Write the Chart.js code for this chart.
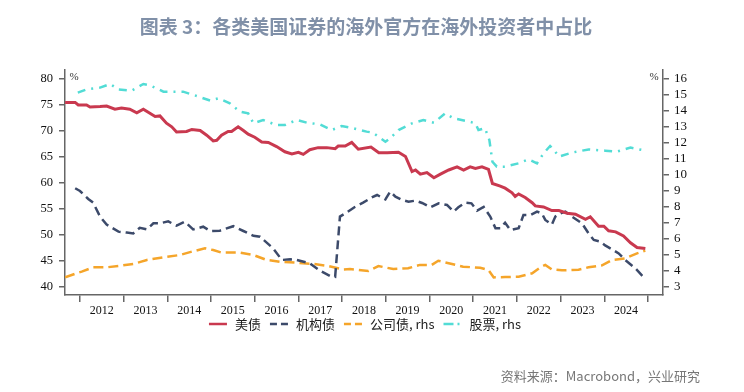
<!DOCTYPE html>
<html><head><meta charset="utf-8">
<script src="https://cdn.jsdelivr.net/npm/chart.js@4.4.1/dist/chart.umd.min.js"></script>
<style>html,body{margin:0;padding:0;background:#fff;}canvas{display:block}</style>
</head><body>
<canvas id="c" width="744" height="392"></canvas>
<script>
// ---- DATA (decimal years) ----
const treasuryYears = [2011.66,2011.89,2011.96,2012.15,2012.23,2012.46,2012.61,2012.80,2012.95,2013.14,2013.30,2013.45,2013.72,2013.83,2013.98,2014.10,2014.21,2014.44,2014.56,2014.75,2014.90,2015.05,2015.13,2015.24,2015.39,2015.47,2015.62,2015.74,2015.85,2016.00,2016.16,2016.31,2016.50,2016.69,2016.85,2017.00,2017.11,2017.26,2017.45,2017.65,2017.84,2017.91,2018.07,2018.22,2018.37,2018.66,2018.84,2019.03,2019.29,2019.45,2019.60,2019.68,2019.79,2019.94,2020.10,2020.25,2020.44,2020.63,2020.78,2020.93,2021.05,2021.20,2021.35,2021.44,2021.62,2021.73,2021.89,2021.96,2022.04,2022.19,2022.35,2022.42,2022.61,2022.80,2022.96,2023.15,2023.34,2023.57,2023.68,2023.87,2023.99,2024.10,2024.26,2024.44,2024.60,2024.75,2024.94];
const treasuryValues = [75.5,75.5,75.0,75.0,74.6,74.7,74.8,74.2,74.4,74.2,73.5,74.2,72.8,72.9,71.5,70.8,69.8,69.9,70.3,70.1,69.2,68.1,68.2,69.2,69.9,69.9,70.8,70.1,69.4,68.8,67.9,67.8,67.0,66.0,65.6,65.9,65.5,66.4,66.8,66.8,66.6,67.1,67.1,67.8,66.5,66.9,65.8,65.8,65.9,65.1,62.2,62.5,61.7,62.0,61.0,61.7,62.5,63.1,62.5,63.1,62.8,63.1,62.6,59.9,59.4,59.0,58.1,57.4,57.9,57.2,56.2,55.6,55.4,54.7,54.7,54.2,54.0,53.0,53.5,51.7,51.7,50.8,50.6,49.8,48.5,47.6,47.4];

const agencyYears = [2011.89,2012.00,2012.19,2012.30,2012.46,2012.61,2012.88,2013.07,2013.22,2013.37,2013.53,2013.68,2013.83,2014.02,2014.21,2014.40,2014.59,2014.82,2014.98,2015.20,2015.51,2015.74,2015.97,2016.12,2016.42,2016.62,2016.81,2016.96,2017.26,2017.49,2017.72,2017.84,2017.95,2018.07,2018.29,2018.48,2018.68,2018.80,2018.99,2019.10,2019.22,2019.37,2019.52,2019.68,2019.83,2020.02,2020.21,2020.40,2020.55,2020.66,2020.82,2020.96,2021.09,2021.24,2021.39,2021.51,2021.62,2021.73,2021.85,2022.04,2022.15,2022.31,2022.46,2022.57,2022.65,2022.80,2022.88,2022.96,2023.11,2023.26,2023.49,2023.64,2023.76,2023.91,2024.02,2024.18,2024.33,2024.48,2024.71,2024.94];
const agencyValues = [9.17,9.0,8.5,8.27,7.4,6.9,6.46,6.4,6.35,6.7,6.6,6.98,6.98,7.1,6.83,7.08,6.6,6.77,6.5,6.52,6.8,6.5,6.2,6.14,5.42,4.69,4.73,4.69,4.48,4.02,3.69,3.64,7.4,7.6,8.0,8.27,8.6,8.75,8.48,8.96,8.65,8.44,8.33,8.4,8.25,7.98,8.23,8.13,7.71,7.98,8.27,8.23,7.77,8.0,7.4,6.67,6.67,7.02,6.56,6.67,7.5,7.5,7.71,7.6,7.19,6.9,7.4,7.56,7.71,7.4,6.98,6.35,5.94,5.83,5.6,5.35,5.1,4.69,4.17,3.5];

const corporateYears = [2011.66,2011.92,2012.04,2012.30,2012.61,2012.92,2013.22,2013.53,2013.91,2014.29,2014.56,2014.86,2015.05,2015.24,2015.66,2015.97,2016.27,2016.58,2016.96,2017.34,2017.65,2018.03,2018.18,2018.60,2018.83,2019.17,2019.51,2019.78,2020.05,2020.20,2020.39,2020.77,2021.16,2021.35,2021.47,2021.73,2022.04,2022.35,2022.54,2022.65,2022.80,2023.03,2023.41,2023.64,2023.95,2024.18,2024.48,2024.75,2024.94];
const corporateValues = [3.6,3.86,3.96,4.23,4.23,4.33,4.44,4.69,4.86,5.0,5.21,5.42,5.31,5.15,5.15,5.0,4.69,4.58,4.52,4.44,4.33,4.1,4.12,4.0,4.31,4.12,4.17,4.38,4.38,4.64,4.52,4.27,4.2,4.06,3.6,3.62,3.64,3.86,4.23,4.38,4.1,4.04,4.08,4.23,4.35,4.69,4.79,5.1,5.27];

const equityYears = [2011.95,2012.15,2012.46,2012.69,2012.88,2013.18,2013.45,2013.60,2013.91,2014.36,2014.67,2014.98,2015.17,2015.43,2015.66,2015.85,2015.97,2016.19,2016.50,2016.69,2016.96,2017.19,2017.49,2017.76,2017.99,2018.26,2018.56,2018.70,2018.99,2019.10,2019.29,2019.60,2019.86,2020.10,2020.36,2020.55,2020.86,2021.05,2021.12,2021.27,2021.37,2021.44,2021.54,2021.73,2022.04,2022.27,2022.46,2022.61,2022.76,2022.85,2022.96,2023.26,2023.64,2024.02,2024.29,2024.60,2024.94];
const equityValues = [15.15,15.35,15.46,15.69,15.35,15.27,15.69,15.6,15.21,15.21,14.94,14.65,14.79,14.48,13.96,13.85,13.23,13.44,13.12,13.12,13.44,13.27,13.17,12.81,13.06,12.92,12.71,12.65,12.08,12.3,12.81,13.23,13.44,13.27,13.85,13.54,13.37,13.23,12.81,12.92,12.19,10.83,10.52,10.52,10.73,10.98,10.73,11.35,11.81,11.56,11.15,11.4,11.6,11.52,11.46,11.71,11.52];

const seriesNames = ['美债','机构债','公司债, rhs','股票, rhs'];
const yearTicks = [2012,2013,2014,2015,2016,2017,2018,2019,2020,2021,2022,2023,2024,2025];
const leftTicks = [40,45,50,55,60,65,70,75,80];
const rightTicks = [3,4,5,6,7,8,9,10,11,12,13,14,15,16];

const titleText = '图表 3：各类美国证券的海外官方在海外投资者中占比';
const sourceText = '资料来源：Macrobond，兴业研究';

// ---- build ----
const pts = (xs, ys) => xs.map((x, i) => ({x, y: ys[i]}));
const colors = ['#c9394f', '#3c4a6a', '#f5a52a', '#52dcd5'];
const dashes = [[], [9,5], [10,5], [8,6,2,6]];
const legendDashes = [[], [7,4], [7,4], [10,4,2,4]];

const CJK = '"Noto Sans CJK SC", "Noto Sans", sans-serif';
const SERIF = '"Liberation Serif", "DejaVu Serif", serif';

const decor = {
  id: 'decor',
  afterDraw(chart) {
    const ctx = chart.ctx;
    ctx.save();
    ctx.font = 'bold 19px ' + CJK;
    ctx.fillStyle = '#8090a8';
    ctx.textAlign = 'center';
    ctx.textBaseline = 'middle';
    ctx.fillText(titleText, 366, 27);
    ctx.font = '13px ' + CJK;
    ctx.fillStyle = '#777';
    ctx.textAlign = 'right';
    ctx.fillText(sourceText, 700, 376);
    const ca = chart.chartArea;
    ctx.font = '11px ' + SERIF;
    ctx.fillStyle = '#333';
    ctx.textAlign = 'center';
    ctx.fillText('%', ca.left + 9, 77);
    ctx.fillText('%', ca.right - 9, 77);
    ctx.font = '13px ' + CJK;
    const sampleW = 18, gapT = 8, gapI = 9;
    const widths = seriesNames.map(n => ctx.measureText(n).width);
    const total = widths.reduce((a, w) => a + sampleW + gapT + w, 0) + gapI * (seriesNames.length - 1);
    let x = 365 - total / 2;
    const ly = 324;
    chart.data.datasets.forEach((ds, i) => {
      ctx.beginPath();
      ctx.strokeStyle = ds.borderColor;
      ctx.lineWidth = 2.5;
      ctx.setLineDash(legendDashes[i]);
      ctx.moveTo(x, ly); ctx.lineTo(x + sampleW, ly);
      ctx.stroke();
      ctx.setLineDash([]);
      ctx.fillStyle = '#222';
      ctx.textAlign = 'left';
      ctx.fillText(seriesNames[i], x + sampleW + gapT, ly);
      x += sampleW + gapT + widths[i] + gapI;
    });
    ctx.restore();
  }
};

const axisColor = '#666';
new Chart(document.getElementById('c'), {
  type: 'line',
  data: {
    datasets: [
      {label: seriesNames[0], data: pts(treasuryYears, treasuryValues), yAxisID: 'y', borderColor: colors[0], borderWidth: 3, borderDash: dashes[0]},
      {label: seriesNames[1], data: pts(agencyYears, agencyValues), yAxisID: 'y2', borderColor: colors[1], borderWidth: 2.5, borderDash: dashes[1]},
      {label: seriesNames[2], data: pts(corporateYears, corporateValues), yAxisID: 'y2', borderColor: colors[2], borderWidth: 2.5, borderDash: dashes[2]},
      {label: seriesNames[3], data: pts(equityYears, equityValues), yAxisID: 'y2', borderColor: colors[3], borderWidth: 2.5, borderDash: dashes[3]}
    ]
  },
  options: {
    responsive: false,
    animation: false,
    devicePixelRatio: 1,
    layout: {padding: {top: 70, left: 0, right: 0, bottom: 0}},
    elements: {point: {radius: 0}, line: {tension: 0, fill: false, borderCapStyle: 'butt'}},
    plugins: {legend: {display: false}, tooltip: {enabled: false}, title: {display: false}},
    scales: {
      x: {
        type: 'linear', position: 'bottom',
        min: 2011.657, max: 2025.344,
        afterBuildTicks: s => { s.ticks = yearTicks.map(v => ({value: v})); },
        afterFit: s => { s.height = 97; },
        ticks: {autoSkip: false, maxRotation: 0, minRotation: 0, labelOffset: 21.8, padding: 2,
          callback: v => v < 2025 ? String(v) : '',
          font: {family: SERIF, size: 12}, color: '#111'},
        grid: {drawOnChartArea: false, tickLength: 7, color: axisColor, lineWidth: 1.5},
        border: {color: axisColor, width: 1.5}
      },
      y: {
        type: 'linear', position: 'left',
        min: 38.46, max: 81.73,
        afterBuildTicks: s => { s.ticks = leftTicks.map(v => ({value: v})); },
        afterFit: s => { s.width = 65; },
        ticks: {autoSkip: false, padding: 6, font: {family: SERIF, size: 12.5}, color: '#111'},
        grid: {drawOnChartArea: false, tickLength: 6, color: axisColor, lineWidth: 1.5},
        border: {color: axisColor, width: 1.5}
      },
      y2: {
        type: 'linear', position: 'right',
        min: 2.5, max: 16.5625,
        afterBuildTicks: s => { s.ticks = rightTicks.map(v => ({value: v})); },
        afterFit: s => { s.width = 81; },
        ticks: {autoSkip: false, padding: 5, font: {family: SERIF, size: 13}, color: '#111'},
        grid: {drawOnChartArea: false, tickLength: 6, color: axisColor, lineWidth: 1.5},
        border: {color: axisColor, width: 1.5}
      }
    }
  },
  plugins: [decor]
});
</script>
</body></html>
